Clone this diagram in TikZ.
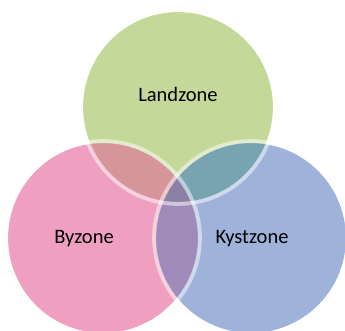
\documentclass[tikz,border=0pt]{standalone}
\usepackage{fontspec}
\setsansfont{Carlito}
\usetikzlibrary{positioning}
\definecolor{landgreen}{HTML}{C4D999}
\definecolor{bypink}{HTML}{EF9FBF}
\definecolor{kystblue}{HTML}{9FB3DA}
\definecolor{bylandmix}{HTML}{D6949B}
\definecolor{landkystmix}{HTML}{78A3B0}
\definecolor{bykystmix}{HTML}{A08AB9}
\definecolor{allmix}{HTML}{8C80A6}
\def\zr{2.85cm}

\begin{document}
\begin{tikzpicture}[x=0.03cm,y=-0.03cm,font=\sffamily\fontsize{17.5}{20}\selectfont]
  \tikzset{
    zone/.style={circle,minimum size=5.7cm,inner sep=0pt},
    rim/.style={white,opacity=0.5,line width=0.11cm},
    seam/.style={white,opacity=0.45,line width=0.4pt,dash pattern=on 1pt off 1pt}
  }
  \clip (0,0) rectangle (345,330);
  % the three zones
  \node[zone,fill=landgreen] (land) at (178,107) {};
  \node[zone,fill=bypink] (by) at (103,238) {};
  \node[zone,fill=kystblue] (kyst) at (251,238) {};
  % overlaps
  \begin{scope}
    \clip (land.center) circle (\zr);
    \fill[bylandmix] (by.center) circle (\zr);
    \fill[landkystmix] (kyst.center) circle (\zr);
  \end{scope}
  \begin{scope}
    \clip (by.center) circle (\zr);
    \fill[bykystmix] (kyst.center) circle (\zr);
    \clip (kyst.center) circle (\zr);
    \fill[allmix] (land.center) circle (\zr);
  \end{scope}
  % light rims round each zone
  \foreach \z in {land,by,kyst}{
    \draw[rim] (\z.center) circle (2.91cm);
    \draw[seam] (\z.center) circle (\zr);
  }
  \node (landtxt) at (178,94) {Landzone};
  \node (bytxt) at (84,239) {Byzone};
  \node (kysttxt) at (252,239) {Kystzone};
\end{tikzpicture}
\end{document}
